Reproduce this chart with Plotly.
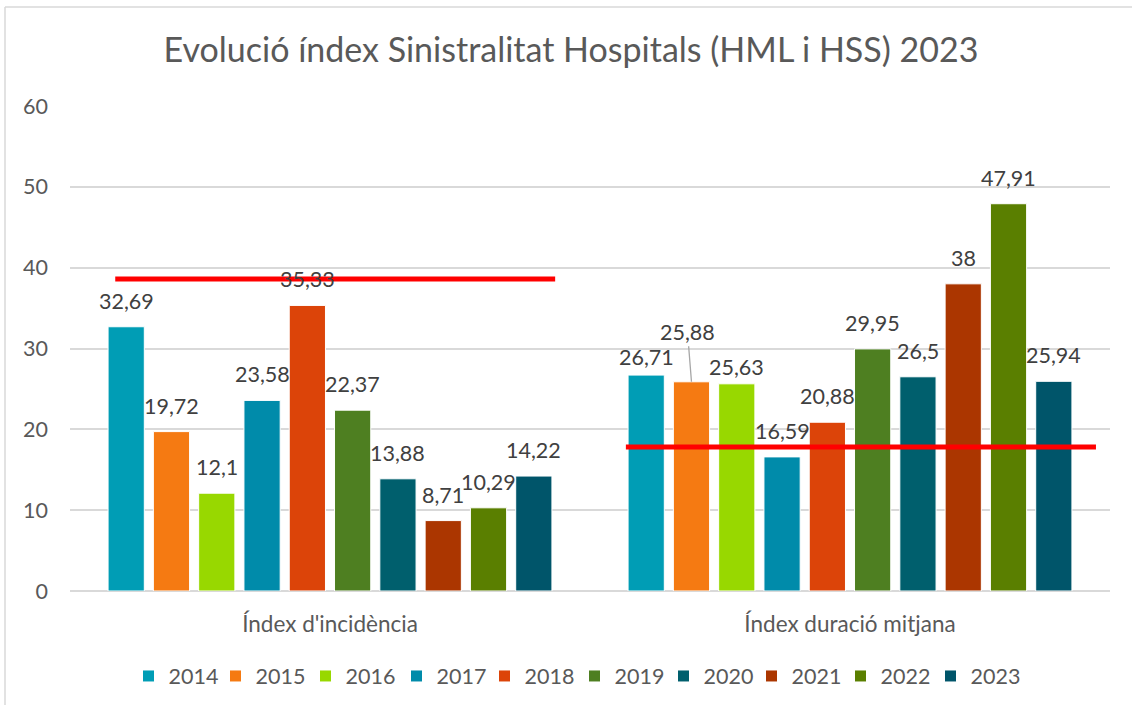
import plotly.graph_objects as go

categories = ["Índex d'incidència", "Índex duració mitjana"]
years = ["2014", "2015", "2016", "2017", "2018", "2019", "2020", "2021", "2022", "2023"]
incidencia = [32.69, 19.72, 12.1, 23.58, 35.33, 22.37, 13.88, 8.71, 10.29, 14.22]
duracio = [26.71, 25.88, 25.63, 16.59, 20.88, 29.95, 26.5, 38, 47.91, 25.94]
labels_inc = ["32,69", "19,72", "12,1", "23,58", "35,33", "22,37", "13,88", "8,71", "10,29", "14,22"]
labels_dur = ["26,71", "25,88", "25,63", "16,59", "20,88", "29,95", "26,5", "38", "47,91", "25,94"]
colors = ["#009DB5", "#F57A12", "#98D800", "#008BAA", "#DC4409",
          "#4E7F21", "#005F6D", "#AB3600", "#5A7F00", "#00556A"]
ref_lines = [38.6, 17.8]
ref_x = [(-0.413, 0.433), (-0.431, 0.473)]

W, H = 1132, 705
ml, mr, mt, mb = 70, 22, 106, 114
pw, ph = W - ml - mr, H - mt - mb
FONT = "Lato, 'Open Sans', sans-serif"
BARGAP, GROUPGAP = 0.129, 0.2
slot_px = (pw / 2) * (1 - BARGAP) / len(years)
legend_centers_px = [149.5, 236.5, 326.5, 417.5, 505.5, 595.5, 684.5, 772.5, 861.5, 951.5]
label_yshift = {(1, 0): 18, (1, 2): 17}

fig = go.Figure()
for i, y in enumerate(years):
    lg = "legend" if i == 0 else f"legend{i + 1}"
    fig.add_trace(go.Bar(
        name=y, x=categories, y=[incidencia[i], duracio[i]],
        marker=dict(color=colors[i], line=dict(color="white", width=1)),
        legend=lg,
    ))
    for c, (vals, labs) in enumerate([(incidencia, labels_inc), (duracio, labels_dur)]):
        xs = (i - 4.5) * slot_px
        if c == 1 and i == 1:
            fig.add_annotation(x=categories[c], y=vals[i], xref="x", yref="y", text=labs[i],
                               showarrow=True, arrowhead=0, arrowcolor="#A6A6A6",
                               arrowwidth=1.3, ax=-4, ay=-50, xshift=xs, standoff=0,
                               font=dict(size=21.5, color="#404040", family=FONT))
        else:
            fig.add_annotation(x=categories[c], y=vals[i], xref="x", yref="y", text=labs[i],
                               showarrow=False, xshift=xs,
                               yshift=label_yshift.get((c, i), 26), yanchor="middle",
                               font=dict(size=21.5, color="#404040", family=FONT))

for idx, (v, (a, b)) in enumerate(zip(ref_lines, ref_x)):
    fig.add_shape(type="line", xref="x", yref="y", x0=idx + a, x1=idx + b, y0=v, y1=v,
                  line=dict(color="#FF0000", width=5), layer="above")

# outer chart frame (left and top edges visible)
fig.add_shape(type="line", xref="paper", yref="paper",
              x0=(5 - ml) / pw, x1=(5 - ml) / pw,
              y0=(H - mb - 705) / ph, y1=(H - mb - 7) / ph,
              line=dict(color="#D9D9D9", width=1.5))
fig.add_shape(type="line", xref="paper", yref="paper",
              x0=(5 - ml) / pw, x1=(1132 - ml) / pw,
              y0=(H - mb - 7) / ph, y1=(H - mb - 7) / ph,
              line=dict(color="#D9D9D9", width=1.5))

legend_y = -(676 - (H - mb)) / ph
legends = {}
for i, cx in enumerate(legend_centers_px):
    key = "legend" if i == 0 else f"legend{i + 1}"
    legends[key] = dict(orientation="h", x=(cx - 21 - ml) / pw, xanchor="left",
                        y=legend_y, yanchor="middle", font=dict(size=21.5, color="#595959"),
                        itemwidth=30, bgcolor="rgba(0,0,0,0)", itemclick=False)

fig.update_layout(
    width=W, height=H,
    margin=dict(l=ml, r=mr, t=mt, b=mb, autoexpand=False),
    paper_bgcolor="white", plot_bgcolor="white",
    font=dict(family=FONT, color="#595959"),
    title=dict(text="Evolució índex Sinistralitat Hospitals (HML i HSS) 2023",
               x=571 / W, xref="container", xanchor="center", y=1 - 50 / H, yanchor="middle",
               font=dict(size=34, color="#595959", family=FONT)),
    barmode="group", bargap=BARGAP, bargroupgap=GROUPGAP,
    yaxis=dict(range=[0, 60], dtick=10, showgrid=True, gridcolor="#D9D9D9", gridwidth=1.5,
               zeroline=True, zerolinecolor="#D9D9D9", zerolinewidth=1.5,
               tickfont=dict(size=21.5, color="#595959"),
               ticklabelstandoff=21, showline=False),
    xaxis=dict(tickfont=dict(size=22.5, color="#595959"), showline=False, ticks="",
               range=[-0.5, 1.5], ticklabelstandoff=17),
    showlegend=True,
    **legends,
)

fig.write_html("out.html", config={"displayModeBar": False},
               post_script="document.body.style.margin='0';")
